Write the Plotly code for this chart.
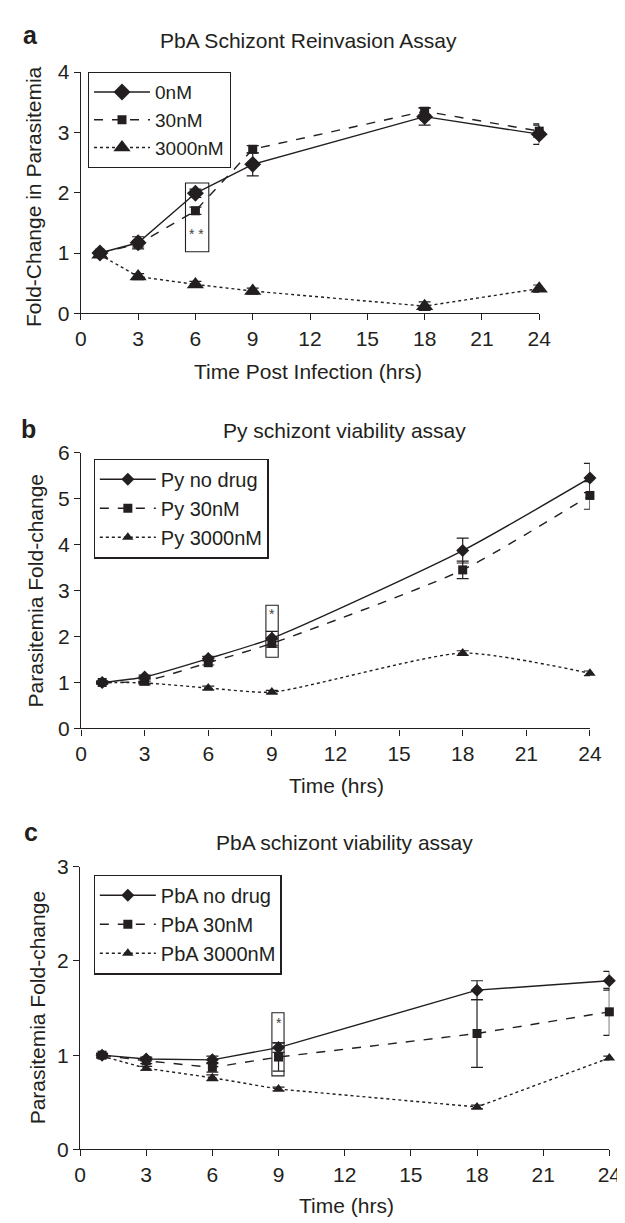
import plotly.graph_objects as go

# ---------------- data ----------------
hours = [1, 3, 6, 9, 18, 24]
x_ticks = [0, 3, 6, 9, 12, 15, 18, 21, 24]

# Panel a: PbA schizont reinvasion assay
a_names = ["0nM", "30nM", "3000nM"]
a_0nM = [1.00, 1.17, 1.99, 2.47, 3.26, 2.97]
a_0nM_err = [0.03, 0.10, 0.07, 0.19, 0.14, 0.17]
a_30nM = [1.00, 1.15, 1.70, 2.72, 3.35, 3.02]
a_30nM_err = [0.03, 0.05, 0.06, 0.06, 0.06, 0.10]
a_3000nM = [0.97, 0.61, 0.48, 0.37, 0.12, 0.41]
a_3000nM_err = [0.03, 0.05, 0.05, 0.05, 0.07, 0.06]

# Panel b: Py schizont viability assay
b_names = ["Py no drug", "Py 30nM", "Py 3000nM"]
b_nodrug = [1.00, 1.12, 1.52, 1.96, 3.87, 5.45]
b_nodrug_err = [0.03, 0.04, 0.05, 0.15, 0.27, 0.32]
b_30nM = [1.00, 1.03, 1.43, 1.85, 3.45, 5.07]
b_30nM_err = [0.03, 0.05, 0.05, 0.08, 0.19, 0.30]
b_3000nM = [1.00, 0.99, 0.88, 0.79, 1.64, 1.20]
b_3000nM_err = [0.02, 0.04, 0.04, 0.04, 0.05, 0.05]

# Panel c: PbA schizont viability assay
c_names = ["PbA no drug", "PbA 30nM", "PbA 3000nM"]
c_nodrug = [1.00, 0.96, 0.95, 1.08, 1.69, 1.79]
c_nodrug_err = [0.02, 0.02, 0.04, 0.05, 0.10, 0.10]
c_30nM = [1.00, 0.94, 0.87, 0.98, 1.23, 1.46]
c_30nM_err = [0.02, 0.03, 0.05, 0.15, 0.36, 0.25]
c_3000nM = [0.99, 0.86, 0.76, 0.64, 0.45, 0.97]
c_3000nM_err = [0.02, 0.02, 0.03, 0.02, 0.02, 0.02]

titles = ["PbA Schizont Reinvasion Assay", "Py schizont viability assay", "PbA schizont viability assay"]
letters = ["a", "b", "c"]
x_titles = ["Time Post Infection (hrs)", "Time (hrs)", "Time (hrs)"]
y_titles = ["Fold-Change in Parasitemia", "Parasitemia Fold-change", "Parasitemia Fold-change"]
y_ranges = [4, 6, 3]
# significance boxes (x0, x1, y0, y1) and star text/position
sig_boxes = [(5.48, 6.70, 1.02, 2.16), (8.72, 9.30, 1.55, 2.68), (8.70, 9.25, 0.78, 1.45)]
sig_text = [("* *", 6.05, 1.32), ("*", 9.0, 2.49), ("*", 9.0, 1.34)]

# ---------------- layout geometry (pixels) ----------------
W, H = 625, 1223
FONT = "Liberation Sans, Arial, sans-serif"
INK = "#231f20"
FS = 21
legend_fs = [19, 20, 20]

# plot areas: left, right, top, bottom
areas = [(68.8, 540.8, 53, 299), (69, 593, 441, 722), (68, 613, 863, 1151)]
title_pos = [(303, 21), (340, 418), (340, 838)]
letter_pos = [(17, 15), (15, 417), (17, 828)]
xtitle_pos = [(303, 358), (332, 780), (342, 1208)]
ytitle_pos = [(20, 180), (22, 582), (24, 1007)]
legend_pos = [(76, 53), (82, 447), (82, 871)]

def px(x):
    return x / W

def py(y):
    return 1 - y / H

fig = go.Figure()

panels = [
    (a_names, [a_0nM, a_30nM, a_3000nM], [a_0nM_err, a_30nM_err, a_3000nM_err], "linear"),
    (b_names, [b_nodrug, b_30nM, b_3000nM], [b_nodrug_err, b_30nM_err, b_3000nM_err], "spline"),
    (c_names, [c_nodrug, c_30nM, c_3000nM], [c_nodrug_err, c_30nM_err, c_3000nM_err], "linear"),
]
dashes = ["solid", "dash", "dot"]
symbols = ["diamond", "square", "triangle-up"]
msizes = [[13, 9, 15], [10, 9, 10], [10, 9, 10]]

annotations = []
shapes = []

for i, (names, series, errs, shape) in enumerate(panels):
    n = "" if i == 0 else str(i + 1)
    xa, ya = "x" + n, "y" + n
    leg = "legend" if i == 0 else "legend" + str(i + 1)
    for j in range(3):
        fig.add_trace(go.Scatter(
            x=hours, y=series[j], name=names[j], mode="lines+markers",
            xaxis=xa, yaxis=ya, legend=leg, cliponaxis=False,
            line=dict(color=INK, width=1.4, dash=dashes[j], shape=shape, smoothing=0.6),
            marker=dict(symbol=symbols[j], size=msizes[i][j], color=INK),
            error_y=dict(type="data", array=errs[j], visible=True, color=INK, thickness=1.2, width=6),
        ))
    l, r, t, b = areas[i]
    xdom = [px(l), px(r)]
    ydom = [py(b), py(t)]
    axis_common = dict(showline=True, linecolor=INK, linewidth=1.2, ticks="outside",
                       ticklen=6, tickwidth=1.2, tickcolor=INK, showgrid=False, zeroline=False,
                       tickfont=dict(family=FONT, size=FS, color=INK))
    fig.update_layout(**{
        "xaxis" + n: dict(domain=xdom, range=[0, 24], tickvals=x_ticks, anchor=ya, **axis_common),
        "yaxis" + n: dict(domain=ydom, range=[0, y_ranges[i]], dtick=1, anchor=xa, **axis_common),
        leg: dict(x=px(legend_pos[i][0]), y=py(legend_pos[i][1]), xanchor="left", yanchor="top",
                  bordercolor=INK, borderwidth=1.2, bgcolor="white", itemwidth=56,
                  font=dict(family=FONT, size=legend_fs[i], color=INK), tracegroupgap=0),
    })
    # titles / labels
    annotations.append(dict(text=titles[i], x=px(title_pos[i][0]), y=py(title_pos[i][1]),
                            xref="paper", yref="paper", showarrow=False, xanchor="center", yanchor="middle",
                            font=dict(family=FONT, size=FS, color=INK)))
    annotations.append(dict(text="<b>" + letters[i] + "</b>", x=px(letter_pos[i][0]), y=py(letter_pos[i][1]),
                            xref="paper", yref="paper", showarrow=False, xanchor="center", yanchor="middle",
                            font=dict(family=FONT, size=25, color=INK)))
    annotations.append(dict(text=x_titles[i], x=px(xtitle_pos[i][0]), y=py(xtitle_pos[i][1]),
                            xref="paper", yref="paper", showarrow=False, xanchor="center", yanchor="middle",
                            font=dict(family=FONT, size=FS, color=INK)))
    annotations.append(dict(text=y_titles[i], x=px(ytitle_pos[i][0]), y=py(ytitle_pos[i][1]),
                            xref="paper", yref="paper", showarrow=False, xanchor="center", yanchor="middle",
                            textangle=-90, font=dict(family=FONT, size=FS, color=INK)))
    # significance box and star
    x0, x1, y0, y1 = sig_boxes[i]
    shapes.append(dict(type="rect", xref=xa, yref=ya, x0=x0, x1=x1, y0=y0, y1=y1,
                       line=dict(color=INK, width=1.1)))
    st, sx, sy = sig_text[i]
    annotations.append(dict(text=st, x=sx, y=sy, xref=xa, yref=ya, showarrow=False,
                            xanchor="center", yanchor="middle",
                            font=dict(family=FONT, size=14, color="#444444")))

fig.update_layout(
    width=W, height=H, autosize=False,
    margin=dict(l=0, r=0, t=0, b=0),
    paper_bgcolor="white", plot_bgcolor="white",
    font=dict(family=FONT, size=FS, color=INK),
    annotations=annotations, shapes=shapes,
    showlegend=True,
)

fig.write_html("out.html")
